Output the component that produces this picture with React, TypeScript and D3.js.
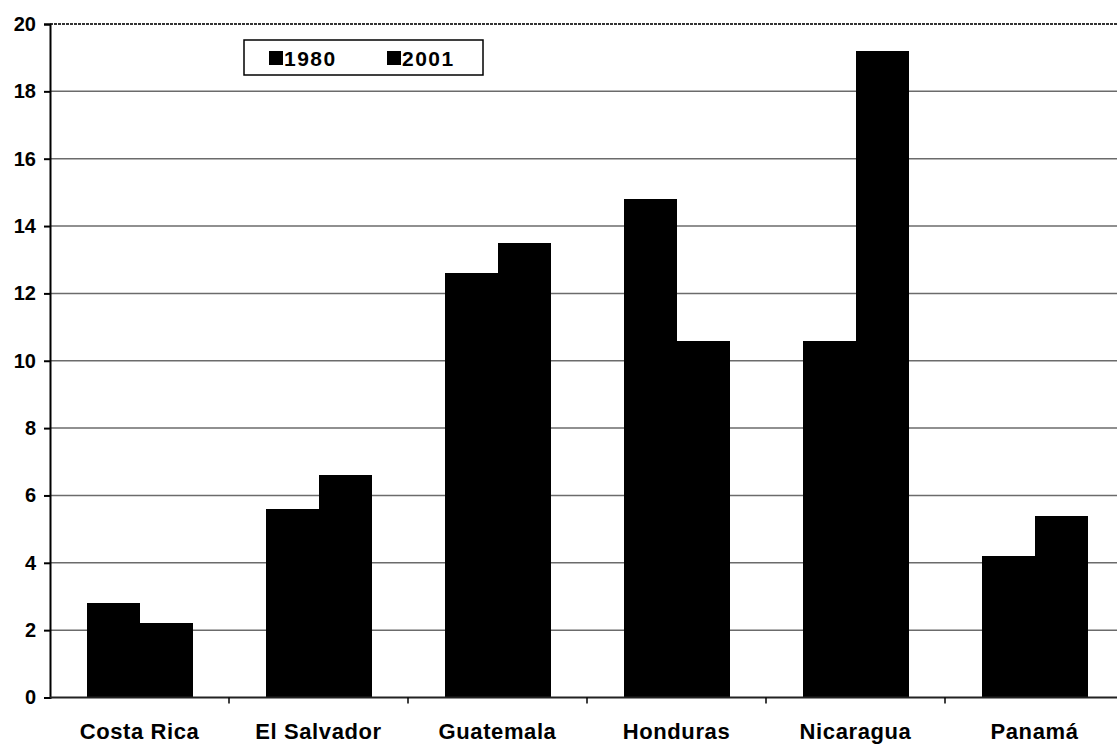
import * as d3 from "d3";
import { useEffect, useRef } from "react";

const countries = ["Costa Rica", "El Salvador", "Guatemala", "Honduras", "Nicaragua", "Panamá"];
const years = ["1980", "2001"];
const values1980 = [2.8, 5.6, 12.6, 14.8, 10.6, 4.2];
const values2001 = [2.2, 6.6, 13.5, 10.6, 19.2, 5.4];
const yTicks = [0, 2, 4, 6, 8, 10, 12, 14, 16, 18, 20];

const width = 1117;
const height = 745;

export default function App() {
  const svgRef = useRef<SVGSVGElement>(null);

  useEffect(() => {
    if (!svgRef.current) return;
    const svg = d3.select(svgRef.current);
    svg.selectAll("*").remove();

    const margin = { top: 24, left: 50, bottom: 48 };
    const plotRight = 1124; // plot runs past the right edge of the picture
    const y0 = height - margin.bottom;

    const x = d3.scaleBand<string>().domain(countries).range([margin.left, plotRight]).paddingInner(0).paddingOuter(0);
    const xSub = d3.scaleBand<string>().domain(years).range([0, x.bandwidth()]).paddingOuter(0.7).paddingInner(0);
    const y = d3.scaleLinear().domain([0, 20]).range([y0 + 0.5, margin.top]);

    const font = "'Liberation Sans', Arial, sans-serif";

    // Grid lines
    svg
      .append("g")
      .selectAll("line")
      .data(yTicks.filter((t) => t > 0 && t < 20))
      .enter()
      .append("line")
      .attr("x1", margin.left)
      .attr("x2", plotRight)
      .attr("y1", (d) => y(d))
      .attr("y2", (d) => y(d))
      .style("stroke", "#6b6b6b")
      .style("stroke-width", 1.5);

    // top border, dotted
    svg
      .append("line")
      .attr("x1", margin.left)
      .attr("x2", plotRight)
      .attr("y1", y(20))
      .attr("y2", y(20))
      .style("stroke", "#333")
      .style("stroke-width", 2)
      .style("stroke-dasharray", "3,1");

    // Bars
    const series = [values1980, values2001];
    const groups = svg
      .append("g")
      .selectAll("g")
      .data(countries)
      .enter()
      .append("g")
      .attr("transform", (d) => `translate(${x(d)},0)`);

    groups
      .selectAll("rect")
      .data((_, i) => years.map((yr, j) => ({ yr, v: series[j][i] })))
      .enter()
      .append("rect")
      .attr("x", (d) => xSub(d.yr) as number)
      .attr("width", xSub.bandwidth() + 0.5)
      .attr("y", (d) => y(d.v))
      .attr("height", (d) => y(0) - y(d.v))
      .style("fill", "#000")
      .attr("shape-rendering", "crispEdges");

    // Y axis
    const yAxis = d3.axisLeft(y).tickValues(yTicks).tickSize(6).tickPadding(8).tickFormat(d3.format("d"));
    const ya = svg.append("g").attr("transform", `translate(${margin.left},0)`).call(yAxis);
    ya.selectAll("text")
      .style("font-family", font)
      .style("font-weight", "bold")
      .style("font-size", "20px")
      .style("fill", "#000");
    ya.selectAll(".domain, .tick line").style("stroke", "#000").style("stroke-width", 2);

    // X axis
    const xa = svg.append("g").attr("transform", `translate(0,${y(0)})`);
    xa.append("line").attr("x1", margin.left).attr("x2", plotRight).style("stroke", "#222").style("stroke-width", 2);
    xa.selectAll(".sep")
      .data(countries.slice(1))
      .enter()
      .append("line")
      .attr("x1", (d) => x(d) as number)
      .attr("x2", (d) => x(d) as number)
      .attr("y1", 0)
      .attr("y2", 6)
      .style("stroke", "#000")
      .style("stroke-width", 1.5);
    xa.selectAll("text")
      .data(countries)
      .enter()
      .append("text")
      .attr("x", (d) => (x(d) as number) + x.bandwidth() / 2)
      .attr("y", 41)
      .attr("text-anchor", "middle")
      .style("font-family", font)
      .style("font-weight", "bold")
      .style("font-size", "22px")
      .style("letter-spacing", "0.6px")
      .text((d) => d);

    // Legend
    const legend = svg.append("g").attr("transform", "translate(244,40)");
    legend
      .append("rect")
      .attr("width", 239)
      .attr("height", 35)
      .style("fill", "#fff")
      .style("stroke", "#000")
      .style("stroke-width", 1.5);
    const item = legend
      .selectAll("g")
      .data(years)
      .enter()
      .append("g")
      .attr("transform", (_, i) => `translate(${25 + i * 118},0)`);
    item.append("rect").attr("x", 0).attr("y", 11).attr("width", 14).attr("height", 14).style("fill", "#000");
    item
      .append("text")
      .attr("x", 15)
      .attr("y", 26)
      .style("font-family", font)
      .style("font-weight", "bold")
      .style("font-size", "21px")
      .style("letter-spacing", "1.5px")
      .text((d) => d);
  }, []);

  return (
    <svg
      ref={svgRef}
      width={width}
      height={height}
      style={{ position: "absolute", left: 0, top: 0, background: "#fff" }}
    />
  );
}
